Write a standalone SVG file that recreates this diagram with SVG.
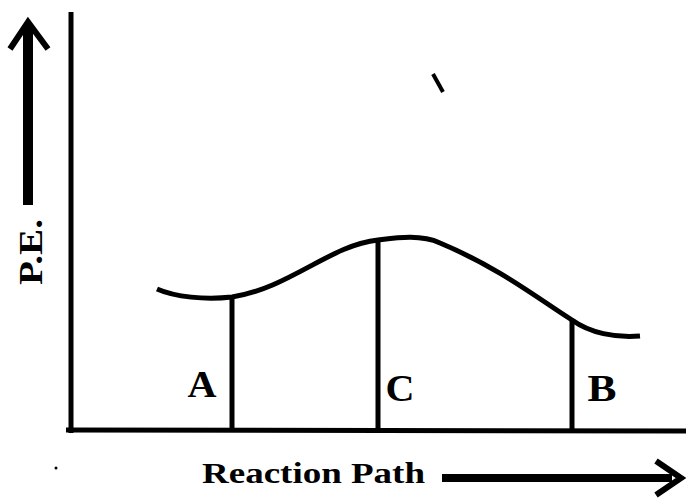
<svg xmlns="http://www.w3.org/2000/svg" width="686" height="499" viewBox="0 0 686 499">
<style>
.ln{stroke:#000;fill:none;stroke-linecap:butt}
.lbl{font-family:"Liberation Serif","DejaVu Serif",serif;font-weight:bold;fill:#000}
</style>
<rect width="686" height="499" fill="#fff"/>
<g id="axes">
<line class="ln" x1="71" y1="12" x2="71" y2="433" stroke-width="5"/>
<line class="ln" x1="66" y1="430" x2="686" y2="431" stroke-width="5"/>
</g>
<g id="connectors">
<path id="curve" class="ln" stroke-width="5" d="M157,289 C175,297 205,300 232,297 C290,288 330,245 378,240 C395,238 420,234 440,243 C500,268 540,300 572,320 C590,333 615,338 640,336"/>
<line class="ln" x1="232" y1="296" x2="232" y2="431" stroke-width="5"/>
<line class="ln" x1="378" y1="240" x2="378" y2="431" stroke-width="5"/>
<line class="ln" x1="572" y1="320" x2="572" y2="431" stroke-width="5"/>
<line class="ln" x1="28" y1="205" x2="28" y2="24" stroke-width="10"/>
<path class="ln" stroke-width="6" d="M10,49 L28,22 L48,49"/>
<line class="ln" x1="442" y1="478" x2="672" y2="478" stroke-width="8"/>
<path class="ln" stroke-width="6" d="M656,461 L681,478 L656,495"/>
<line class="ln" x1="433" y1="74" x2="443" y2="92" stroke-width="4"/>
</g>
<g id="labels">
<text class="lbl" x="202" y="397" font-size="38" text-anchor="middle" textLength="29" lengthAdjust="spacingAndGlyphs">A</text>
<text class="lbl" x="400" y="401" font-size="38" text-anchor="middle" textLength="29" lengthAdjust="spacingAndGlyphs">C</text>
<text class="lbl" x="602" y="401" font-size="38" text-anchor="middle" textLength="29" lengthAdjust="spacingAndGlyphs">B</text>
<text class="lbl" x="202" y="483" font-size="30" textLength="223" lengthAdjust="spacingAndGlyphs">Reaction Path</text>
<text class="lbl" transform="translate(42,285) rotate(-90)" font-size="34" textLength="66" lengthAdjust="spacingAndGlyphs">P.E.</text>
</g>
<circle cx="56" cy="468" r="1.5" fill="#000"/>
</svg>
